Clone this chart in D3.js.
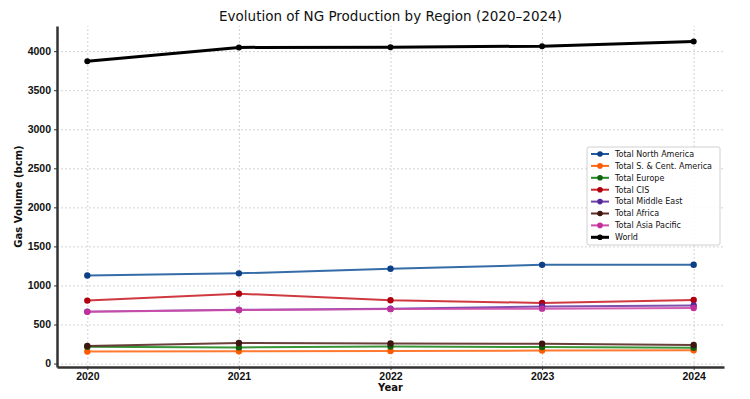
<!DOCTYPE html>
<html>
<head>
<meta charset="utf-8">
<script src="https://cdn.jsdelivr.net/npm/d3@7"></script>
<style>
body { margin: 0; background: #fff; }
svg { font-family: "DejaVu Sans", sans-serif; }
.grid line { stroke: #c8c8c8; stroke-dasharray: 2,2; stroke-width: 0.8; }
.grid path { display: none; }
.axis path, .axis line { stroke: #333; }
.axis text { font-size: 10.5px; font-weight: bold; fill: #111; }
</style>
</head>
<body>
<script>
var years = [2020, 2021, 2022, 2023, 2024];
var regions = ['Total North America', 'Total S. & Cent. America', 'Total Europe', 'Total CIS',
  'Total Middle East', 'Total Africa', 'Total Asia Pacific', 'World'];
var northAmerica = [1128, 1155, 1214, 1264, 1265];
var southCentAmerica = [155, 158, 162, 166, 170];
var europe = [215, 207, 218, 212, 202];
var cis = [806, 895, 810, 776, 815];
var middleEast = [665, 688, 702, 731, 745];
var africa = [226, 264, 256, 255, 238];
var asiaPacific = [662, 686, 697, 703, 712];
var world = [3872, 4048, 4051, 4064, 4124];
var yTicks = [0, 500, 1000, 1500, 2000, 2500, 3000, 3500, 4000];

var seriesValues = [northAmerica, southCentAmerica, europe, cis, middleEast, africa, asiaPacific, world];
var colors = ['#1f5c9e', '#ff6a1a', '#228b22', '#c9252b', '#6f3fa6', '#5a2a24', '#cf4aa9', '#000000'];
var markColors = ['#0c3f85', '#ff5a00', '#106010', '#b00010', '#55289a', '#3f1510', '#c0309a', '#000000'];

var width = 750, height = 399;
var margin = {top: 26, right: 26, bottom: 32, left: 57};

var svg = d3.select("body").append("svg")
  .attr("width", width)
  .attr("height", height);

var x = d3.scaleLinear()
  .domain([2019.8, 2024.2])
  .range([margin.left, width - margin.right]);

var y = d3.scaleLinear()
  .domain([-44, 4322])
  .range([height - margin.bottom, margin.top]);

// grid
svg.append("g")
  .attr("class", "grid")
  .attr("transform", "translate(0," + (height - margin.bottom) + ")")
  .call(d3.axisBottom(x).tickValues(years).tickSize(-(height - margin.top - margin.bottom)).tickFormat(""));
svg.append("g")
  .attr("class", "grid")
  .attr("transform", "translate(" + margin.left + ",0)")
  .call(d3.axisLeft(y).tickValues(yTicks).tickSize(-(width - margin.left - margin.right)).tickFormat(""));

// lines
var line = d3.line()
  .x(function(d, i){ return x(years[i]); })
  .y(function(d){ return y(d); });

seriesValues.forEach(function(vals, s){
  var isWorld = regions[s] == 'World';
  svg.append("path")
    .datum(vals)
    .attr("fill", "none")
    .attr("stroke", colors[s])
    .attr("stroke-width", isWorld ? 3 : 2)
    .attr("stroke-opacity", isWorld ? 1 : 0.9)
    .attr("d", line);
  svg.selectAll(".pt" + s)
    .data(vals)
    .enter()
    .append("circle")
    .attr("class", "pt" + s)
    .attr("cx", function(d, i){ return x(years[i]); })
    .attr("cy", function(d){ return y(d); })
    .attr("r", isWorld ? 3 : 3.2)
    .attr("fill", markColors[s]);
});

// axes
var xAxis = svg.append("g")
  .attr("class", "axis")
  .attr("transform", "translate(0," + (height - margin.bottom) + ")")
  .call(d3.axisBottom(x).tickValues(years).tickFormat(d3.format("d")).tickSize(3).tickSizeOuter(0));
xAxis.select(".domain").attr("stroke-width", 2.5);

var yAxis = svg.append("g")
  .attr("class", "axis")
  .attr("transform", "translate(" + margin.left + ",0)")
  .call(d3.axisLeft(y).tickValues(yTicks).tickFormat(d3.format("d")).tickSize(3).tickSizeOuter(0));
yAxis.select(".domain").attr("stroke-width", 2.5);

// title and labels
svg.append("text")
  .attr("x", (margin.left + width - margin.right) / 2)
  .attr("y", 21)
  .attr("text-anchor", "middle")
  .attr("font-size", 13.5)
  .attr("fill", "#111")
  .text("Evolution of NG Production by Region (2020\u20132024)");

svg.append("text")
  .attr("x", (margin.left + width - margin.right) / 2)
  .attr("y", 391)
  .attr("text-anchor", "middle")
  .attr("font-size", 10)
  .attr("font-weight", 600)
  .attr("fill", "#111")
  .text("Year");

svg.append("text")
  .attr("transform", "translate(22," + ((margin.top + height - margin.bottom) / 2) + ") rotate(-90)")
  .attr("text-anchor", "middle")
  .attr("font-size", 10)
  .attr("font-weight", 600)
  .attr("fill", "#111")
  .text("Gas Volume (bcm)");

// legend
var legend = svg.append("g").attr("transform", "translate(587,147)");
legend.append("rect")
  .attr("width", 133)
  .attr("height", 98)
  .attr("rx", 2)
  .attr("fill", "#fff")
  .attr("fill-opacity", 0.85)
  .attr("stroke", "#d0d0d0");

var items = legend.selectAll(".item")
  .data(regions)
  .enter()
  .append("g")
  .attr("transform", function(d, i){ return "translate(0," + (7 + i * 11.9) + ")"; });
items.append("line")
  .attr("x1", 4).attr("x2", 22)
  .attr("stroke", function(d, i){ return colors[i]; })
  .attr("stroke-width", function(d){ return d == 'World' ? 3 : 2; });
items.append("circle")
  .attr("cx", 13)
  .attr("r", 2.8)
  .attr("fill", function(d, i){ return markColors[i]; });
items.append("text")
  .attr("x", 28)
  .attr("dy", "0.35em")
  .attr("font-size", 8)
  .attr("fill", "#111")
  .text(function(d){ return d; });
</script>
</body>
</html>
